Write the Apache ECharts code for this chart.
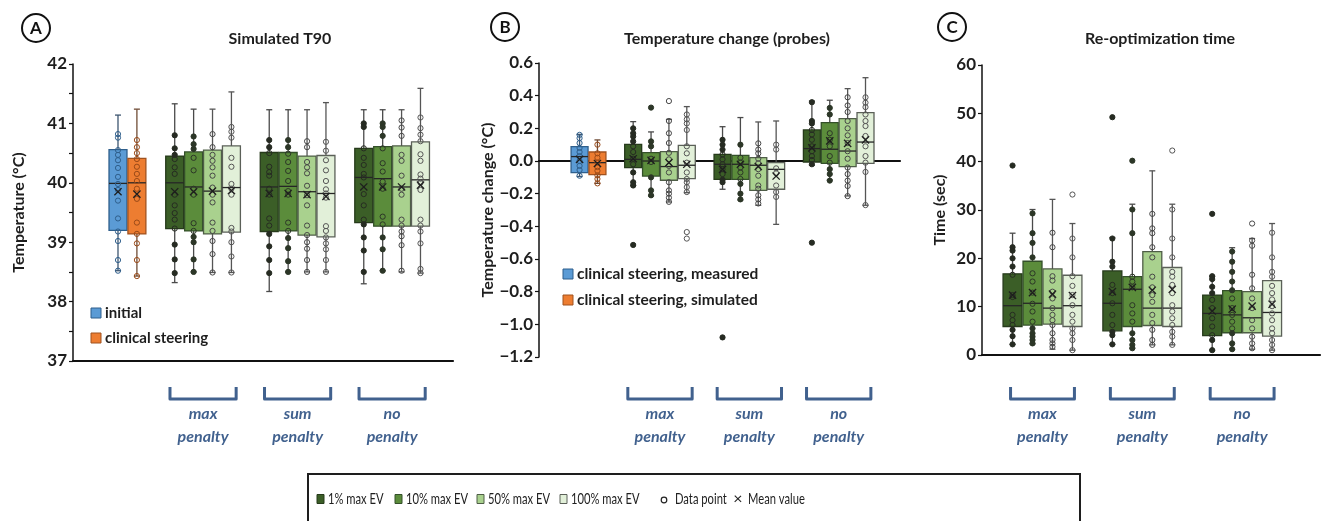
<!DOCTYPE html>
<html>
<head>
<meta charset="utf-8">
<script src="https://cdn.jsdelivr.net/npm/echarts@6.0.0/dist/echarts.min.js"></script>
<style>
  html, body { margin: 0; background: #fff; }
  #main { width: 1322px; height: 521px; }
</style>
</head>
<body>
<div id="main"></div>
<script>
/// data

// slot of each box on the x axis (gaps separate the penalty groups)
const slotsAB = [0, 1, 3, 4, 5, 6, 8, 9, 10, 11, 13, 14, 15, 16]
const slotsC = [0, 1, 2, 3, 5, 6, 7, 8, 10, 11, 12, 13]
// 0 initial/measured, 1 clinical/simulated, 2 1%, 3 10%, 4 50%, 5 100% max EV
const kindsAB = [0, 1, 2, 3, 4, 5, 2, 3, 4, 5, 2, 3, 4, 5]
const kindsC = [2, 3, 4, 5, 2, 3, 4, 5, 2, 3, 4, 5]

const groupLabels = ['max\npenalty', 'sum\npenalty', 'no\npenalty']
const groupSlotsAB = [4.5, 9.5, 14.5]
const groupSlotsC = [1.5, 6.5, 11.5]

// [whisker low, q1, median, q3, whisker high, mean]
const t90Stats = [
  [38.52, 39.2, 39.99, 40.56, 41.14, 39.85],
  [38.43, 39.14, 40.0, 40.41, 41.24, 39.81],
  [38.32, 39.23, 40.0, 40.45, 41.33, 39.85],
  [38.5, 39.19, 39.93, 40.52, 41.24, 39.85],
  [38.49, 39.14, 39.86, 40.55, 41.24, 39.86],
  [38.49, 39.17, 39.92, 40.62, 41.53, 39.87],
  [38.17, 39.18, 39.93, 40.51, 41.23, 39.82],
  [38.5, 39.19, 39.94, 40.51, 41.23, 39.82],
  [38.5, 39.12, 39.85, 40.45, 41.23, 39.8],
  [38.5, 39.09, 39.82, 40.46, 41.35, 39.77],
  [38.3, 39.33, 40.09, 40.58, 41.23, 39.93],
  [38.52, 39.27, 40.07, 40.61, 41.23, 39.93],
  [38.5, 39.27, 39.93, 40.62, 41.23, 39.93],
  [38.48, 39.27, 40.05, 40.69, 41.59, 39.96]
]
const t90Points = [
  [40.82, 40.76, 40.55, 40.47, 40.38, 40.25, 40.1, 39.98, 39.88, 39.7, 39.4, 39.18, 39.02, 38.7, 38.52],
  [40.72, 40.6, 40.5, 40.4, 40.27, 40.15, 40.03, 39.9, 39.73, 39.33, 39.14, 38.98, 38.7, 38.43],
  [40.8, 40.58, 40.47, 40.4, 40.26, 40.15, 39.8, 39.62, 39.49, 39.38, 39.23, 38.96, 38.71, 38.48],
  [40.78, 40.65, 40.57, 40.42, 40.21, 39.9, 39.8, 39.32, 39.19, 39.09, 39.0, 38.71, 38.5],
  [40.82, 40.6, 40.47, 40.37, 40.26, 40.12, 39.92, 39.8, 39.67, 39.33, 39.19, 39.02, 38.8, 38.49],
  [40.94, 40.86, 40.76, 40.42, 40.27, 39.98, 39.9, 39.8, 39.24, 39.18, 39.0, 38.76, 38.49],
  [40.72, 40.6, 40.5, 40.27, 40.18, 40.12, 39.9, 39.8, 39.4, 39.28, 39.14, 38.93, 38.7, 38.48],
  [40.72, 40.6, 40.49, 40.35, 40.2, 40.03, 39.86, 39.8, 39.33, 39.19, 39.07, 38.9, 38.68, 38.5],
  [40.7, 40.6, 40.35, 40.26, 40.16, 39.95, 39.79, 39.62, 39.28, 39.12, 39.0, 38.89, 38.7, 38.5],
  [40.69, 40.54, 40.38, 40.21, 40.03, 39.89, 39.82, 39.75, 39.27, 39.19, 39.08, 38.98, 38.88, 38.7, 38.5],
  [41.0, 40.94, 40.58, 40.42, 40.3, 40.15, 40.09, 39.81, 39.62, 39.38, 39.3, 39.08, 38.86, 38.5],
  [41.0, 40.94, 40.79, 40.58, 40.33, 40.19, 40.02, 39.9, 39.43, 39.3, 39.08, 38.88, 38.52],
  [41.05, 40.93, 40.79, 40.47, 40.37, 40.12, 39.9, 39.8, 39.38, 39.28, 39.18, 39.1, 38.95, 38.52],
  [41.1, 40.92, 40.81, 40.7, 40.48, 40.37, 40.14, 40.07, 40.0, 39.88, 39.38, 39.28, 39.18, 38.98, 38.55, 38.48]
]

const probeStats = [
  [-0.095, -0.071, 0.027, 0.088, 0.163, 0.01],
  [-0.137, -0.083, -0.01, 0.055, 0.129, -0.015],
  [-0.149, -0.04, 0.01, 0.102, 0.241, 0.014],
  [-0.214, -0.092, 0.0, 0.051, 0.178, 0.004],
  [-0.251, -0.118, -0.034, 0.057, 0.255, -0.01],
  [-0.194, -0.108, -0.026, 0.096, 0.333, -0.02],
  [-0.173, -0.112, -0.02, 0.041, 0.21, -0.051],
  [-0.239, -0.112, -0.02, 0.035, 0.266, -0.02],
  [-0.271, -0.18, -0.026, 0.021, 0.239, -0.034],
  [-0.388, -0.173, -0.051, -0.01, 0.245, -0.092],
  [-0.026, -0.006, 0.076, 0.19, 0.367, 0.08],
  [-0.116, -0.014, 0.072, 0.235, 0.372, 0.123],
  [-0.214, -0.034, 0.061, 0.26, 0.443, 0.108],
  [-0.271, -0.014, 0.116, 0.296, 0.51, 0.129]
]
const probePoints = [
  [0.16, 0.14, 0.11, 0.08, 0.055, 0.03, 0.0, -0.03, -0.055, -0.09],
  [0.1, 0.047, 0.02, -0.01, -0.037, -0.06, -0.088, -0.11, -0.137],
  [0.2, 0.17, 0.15, 0.12, 0.09, 0.055, 0.014, -0.02, -0.07, -0.13, -0.15, -0.514],
  [0.327, 0.12, 0.09, 0.014, -0.006, -0.1, -0.18, -0.21],
  [0.367, 0.245, 0.17, 0.11, 0.05, 0.01, -0.03, -0.07, -0.13, -0.18, -0.2, -0.225, -0.25],
  [0.285, 0.255, 0.23, 0.19, 0.09, 0.047, -0.01, -0.07, -0.11, -0.13, -0.16, -0.19, -0.435, -0.475],
  [0.13, 0.1, 0.07, 0.04, 0.01, -0.02, -0.05, -0.08, -0.115, -0.13, -1.08],
  [0.1, 0.02, -0.01, -0.04, -0.07, -0.11, -0.14, -0.2, -0.235],
  [0.108, 0.07, 0.047, 0.014, -0.014, -0.05, -0.09, -0.15, -0.17, -0.21, -0.235, -0.26],
  [0.1, 0.07, -0.045, -0.075, -0.15, -0.19, -0.22],
  [0.36, 0.245, 0.23, 0.19, 0.163, 0.13, 0.09, 0.06, 0.03, 0.006, -0.02, -0.5],
  [0.325, 0.285, 0.17, 0.13, 0.09, 0.03, -0.01, -0.05, -0.08, -0.12],
  [0.39, 0.34, 0.3, 0.245, 0.2, 0.157, 0.11, 0.06, 0.014, -0.04, -0.08, -0.12, -0.153, -0.215],
  [0.39, 0.357, 0.33, 0.285, 0.245, 0.214, 0.153, 0.09, 0.03, -0.01, -0.067, -0.27]
]

const timeStats = [
  [2.2, 5.9, 10.2, 16.8, 25.2, 12.4],
  [2.3, 6.2, 10.7, 19.4, 30.1, 12.9],
  [1.2, 6.4, 9.7, 17.8, 32.2, 12.6],
  [1.0, 5.9, 10.2, 16.5, 27.2, 12.3],
  [2.2, 5.0, 10.7, 17.4, 24.3, 13.1],
  [1.4, 5.9, 13.6, 16.2, 31.2, 14.0],
  [2.1, 6.1, 9.7, 21.4, 38.1, 13.4],
  [2.1, 5.9, 9.7, 18.1, 31.2, 13.6],
  [1.0, 4.0, 8.6, 12.4, 16.3, 9.1],
  [1.2, 4.6, 8.3, 13.3, 22.2, 9.5],
  [1.2, 4.6, 7.7, 13.1, 24.1, 10.1],
  [1.0, 3.9, 8.8, 15.4, 27.2, 10.5]
]
const timePoints = [
  [39.2, 22.3, 21.6, 20, 18.3, 16.6, 12.4, 12, 8.3, 7.2, 6.2, 5.2, 3.9, 2.2],
  [29.3, 25.2, 23.2, 20.2, 16.9, 15.2, 12.9, 10.6, 9, 6.9, 5.5, 4.5, 3.8, 3.1, 2.4],
  [25.3, 22.3, 16.3, 15.4, 13.1, 11.7, 9.7, 8.3, 7.2, 6.2, 4.5, 3.1, 2.4, 1.7],
  [33.2, 24.1, 20.2, 16.3, 14.3, 12.4, 10.3, 8.3, 6.9, 5.5, 4.5, 3.1, 1.0],
  [49.2, 24.1, 19.3, 18.3, 14.5, 12.8, 10.7, 8.3, 6.2, 4.8, 4.1, 2.2],
  [40.2, 30.1, 25.2, 16.2, 15.2, 14, 10.3, 8.6, 6.9, 4.5, 3.1, 2.1, 1.4],
  [29.2, 26.2, 25.2, 22.3, 20.2, 16.2, 14, 12.4, 11, 8.3, 6.6, 5.2, 3.1, 2.1],
  [42.3, 30.1, 24.1, 20.2, 17.2, 16.2, 14.5, 12.8, 10.3, 9, 7.6, 6.2, 4.8, 3.8, 2.1],
  [29.2, 16.3, 15.7, 14.1, 12.8, 11.4, 9.7, 7.6, 5.9, 4.1, 3.1, 1.0],
  [21.4, 19.3, 17.2, 15.2, 13.4, 11.7, 9.7, 8.3, 6.9, 5.5, 4.5, 2.4, 1.2],
  [27.2, 23.7, 22.6, 16.6, 13.8, 11.7, 9.7, 7.2, 5.5, 3.8, 2.4, 1.4],
  [25.3, 20.2, 17.2, 16.2, 14.3, 12.8, 11.5, 10.1, 8.6, 7.2, 5.5, 4.5, 3.1, 2.1, 1.0]
]


/// styles

const FONT = 'Lato'
const kindFill = ['#5b9bd5', '#ed7d31', '#3b5e27', '#5b8c3b', '#a9d18e', '#e2f0d9']
const kindEdge = ['#2f5f8c', '#a0521f', '#263a1b', '#34502a', '#4f5e47', '#5b6058']
const kindWhisker = ['#3e5670', '#6f4b35', '#4a4a4a', '#4a4a4a', '#555', '#555']
const kindDot = ['#2f5f8c', '#9a4a18', '#262b22', '#2c3627', '#474747', '#555']
const bracketBlue = '#41618e'


/// renderers

function boxRenderer(points, kinds) {
  return function (params, api) {
    const i = params.dataIndex
    const k = kinds[i]
    const x = api.value(0)
    const cx = api.coord([x, api.value(3)])[0]
    const yLow = api.coord([x, api.value(1)])[1]
    const yQ1 = api.coord([x, api.value(2)])[1]
    const yMed = api.coord([x, api.value(3)])[1]
    const yQ3 = api.coord([x, api.value(4)])[1]
    const yHigh = api.coord([x, api.value(5)])[1]
    const yMean = api.coord([x, api.value(6)])[1]
    const w = api.size([0.95, 0])[0]
    const wl = { stroke: kindWhisker[k], lineWidth: 1.3 }
    const children = [
      { type: 'line', shape: { x1: cx, y1: yHigh, x2: cx, y2: yLow }, style: wl },
      { type: 'line', shape: { x1: cx - 3, y1: yHigh, x2: cx + 3, y2: yHigh }, style: wl },
      { type: 'line', shape: { x1: cx - 3, y1: yLow, x2: cx + 3, y2: yLow }, style: wl },
      { type: 'rect', shape: { x: cx - w / 2, y: yQ3, width: w, height: yQ1 - yQ3 },
        style: { fill: kindFill[k], stroke: kindEdge[k], lineWidth: 1.3 } },
      { type: 'line', shape: { x1: cx - w / 2, y1: yMed, x2: cx + w / 2, y2: yMed },
        style: { stroke: '#262626', lineWidth: 1.3 } }
    ]
    const q1 = api.value(2), q3 = api.value(4)
    points[i].forEach(v => {
      const outside = v < q1 || v > q3
      const solid = (k === 2 || k === 3) && outside
      children.push({
        type: 'circle',
        shape: { cx: cx, cy: api.coord([x, v])[1], r: 2.6 },
        style: { fill: solid ? kindDot[k] : 'rgba(0,0,0,0)', stroke: kindDot[k], lineWidth: 1 }
      })
    })
    const m = 3.6
    const ml = { stroke: '#1e1e1e', lineWidth: 1.3 }
    children.push(
      { type: 'line', shape: { x1: cx - m, y1: yMean - m, x2: cx + m, y2: yMean + m }, style: ml },
      { type: 'line', shape: { x1: cx - m, y1: yMean + m, x2: cx + m, y2: yMean - m }, style: ml }
    )
    return { type: 'group', children: children }
  }
}

function bracketRenderer(half) {
  return function (params, api) {
    const c = api.value(0)
    const xl = api.coord([c - half, api.value(1)])[0]
    const xr = api.coord([c + half, api.value(1)])[0]
    const top = 387, bot = 399
    return {
      type: 'group',
      children: [
        { type: 'polyline', shape: { points: [[xl, top], [xl, bot], [xr, bot], [xr, top]] },
          style: { stroke: bracketBlue, lineWidth: 3, fill: null, lineJoin: 'round' } },
        { type: 'text', x: (xl + xr) / 2, y: 402,
          style: { text: groupLabels[params.dataIndex], fill: bracketBlue, font: 'italic bold 16px ' + FONT,
                   align: 'center', verticalAlign: 'top', lineHeight: 23 } }
      ]
    }
  }
}

function boxData(slots, stats) {
  return stats.map((s, i) => [slots[i], s[0], s[1], s[2], s[3], s[4], s[5]])
}


/// axes

function yAxisOf(idx, min, max, interval, name, gap, fmt) {
  return {
    type: 'value', gridIndex: idx, min: min, max: max, interval: interval,
    name: name, nameLocation: 'middle', nameGap: gap,
    nameTextStyle: { fontFamily: FONT, fontWeight: 'bold', fontSize: 16, color: '#1e1e1e' },
    axisLine: { show: true, onZero: false, lineStyle: { color: '#111', width: 1.5 } },
    axisTick: { show: true, length: 4, lineStyle: { color: '#111', width: 1.2 } },
    axisLabel: { fontFamily: FONT, fontWeight: 'bold', fontSize: 17, color: '#1e1e1e', margin: 6, formatter: fmt },
    splitLine: { show: false }
  }
}

function xAxisOf(idx, min, max) {
  return {
    type: 'value', gridIndex: idx, min: min, max: max,
    axisLine: { show: true, onZero: true, lineStyle: { color: '#111', width: 2.2 } },
    axisTick: { show: false }, axisLabel: { show: false }, splitLine: { show: false }
  }
}

const fmtT90 = v => (Math.abs(v - Math.round(v)) < 1e-6 ? String(Math.round(v)) : '')
const fmtProbe = v => (Math.abs(v) < 1e-9 ? '0.0' : (v < 0 ? '\u2212' : '') + Math.abs(v).toFixed(1))
const fmtTime = v => String(v)


/// graphics (titles, panel letters, legends)

function circled(x, y, letter) {
  return [
    { type: 'circle', shape: { cx: x, cy: y, r: 14 }, style: { fill: '#fff', stroke: '#111', lineWidth: 2 } },
    { type: 'text', x: x, y: y + 1, style: { text: letter, font: 'bold 17px ' + FONT, fill: '#111', align: 'center', verticalAlign: 'middle' } }
  ]
}
function title(x, y, t) {
  return { type: 'text', x: x, y: y, style: { text: t, font: 'bold 16px ' + FONT, fill: '#1e1e1e', align: 'center', verticalAlign: 'middle' } }
}
function label(x, y, t, font, sx) {
  return { type: 'text', x: x, y: y, scaleX: sx || 1, style: { text: t, font: font, fill: '#1e1e1e', verticalAlign: 'middle' } }
}
function swatch(x, y, w, h, k, t, font, sx) {
  return [
    { type: 'rect', shape: { x: x, y: y - h / 2, width: w, height: h }, style: { fill: kindFill[k], stroke: kindEdge[k], lineWidth: 1 } },
    label(x + w + 4, y, t, font, sx)
  ]
}

const legendFont = '16px ' + FONT
const squeeze = 0.7
const inFont = 'bold 15px ' + FONT
const graphics = [].concat(
  circled(36, 28, 'A'), circled(505, 27, 'B'), circled(952, 27, 'C'),
  [title(280, 39, 'Simulated T90'), title(727, 39, 'Temperature change (probes)'), title(1160, 39, 'Re-optimization time')],
  swatch(91, 313, 10, 10, 0, 'initial', inFont),
  swatch(91, 338, 10, 10, 1, 'clinical steering', inFont),
  swatch(563, 274, 10, 10, 0, 'clinical steering, measured', 'bold 15.5px ' + FONT),
  swatch(563, 300, 10, 10, 1, 'clinical steering, simulated', 'bold 15.5px ' + FONT),
  [{ type: 'rect', shape: { x: 308, y: 474, width: 772, height: 60 }, style: { fill: null, stroke: '#1e1e1e', lineWidth: 2 } }],
  swatch(317, 499, 7, 9, 2, '1% max EV', legendFont, squeeze),
  swatch(395, 499, 7, 9, 3, '10% max EV', legendFont, squeeze),
  swatch(477, 499, 7, 9, 4, '50% max EV', legendFont, squeeze),
  swatch(560, 499, 7, 9, 5, '100% max EV', legendFont, squeeze),
  [
    { type: 'circle', shape: { cx: 664, cy: 500, r: 2.8 }, style: { fill: '#fff', stroke: '#222', lineWidth: 1.2 } },
    label(675, 499, 'Data point', legendFont, squeeze),
    { type: 'text', x: 738, y: 499, style: { text: '\u00d7', font: '16px ' + FONT, fill: '#1e1e1e', align: 'center', verticalAlign: 'middle' } },
    label(748, 499, 'Mean value', legendFont, squeeze)
  ]
)


/// chart

const chart = echarts.init(document.getElementById('main'))
chart.setOption({
  backgroundColor: '#fff',
  animation: false,
  textStyle: { fontFamily: FONT },
  grid: [
    { left: 73, top: 64, width: 380, height: 297 },
    { left: 539, top: 63, width: 361, height: 294 },
    { left: 982, top: 65, width: 338, height: 290 }
  ],
  xAxis: [xAxisOf(0, -2.38, 17.72), xAxisOf(1, -2.27, 17.93), xAxisOf(2, -1.53, 15.4)],
  yAxis: [
    yAxisOf(0, 37, 42, 0.5, 'Temperature (\u00b0C)', 46, fmtT90),
    yAxisOf(1, -1.2, 0.6, 0.2, 'Temperature change (\u00b0C)', 41, fmtProbe),
    yAxisOf(2, 0, 60, 10, 'Time (sec)', 34, fmtTime)
  ],
  series: [
    { type: 'custom', xAxisIndex: 0, yAxisIndex: 0, clip: false, renderItem: boxRenderer(t90Points, kindsAB),
      encode: { x: 0, y: [1, 2, 3, 4, 5] }, data: boxData(slotsAB, t90Stats) },
    { type: 'custom', xAxisIndex: 1, yAxisIndex: 1, clip: false, renderItem: boxRenderer(probePoints, kindsAB),
      encode: { x: 0, y: [1, 2, 3, 4, 5] }, data: boxData(slotsAB, probeStats) },
    { type: 'custom', xAxisIndex: 2, yAxisIndex: 2, clip: false, renderItem: boxRenderer(timePoints, kindsC),
      encode: { x: 0, y: [1, 2, 3, 4, 5] }, data: boxData(slotsC, timeStats) },
    { type: 'custom', xAxisIndex: 0, yAxisIndex: 0, clip: false, renderItem: bracketRenderer(1.75),
      encode: { x: 0, y: 1 }, data: groupSlotsAB.map(c => [c, 37]) },
    { type: 'custom', xAxisIndex: 1, yAxisIndex: 1, clip: false, renderItem: bracketRenderer(1.8),
      encode: { x: 0, y: 1 }, data: groupSlotsAB.map(c => [c, -1.2]) },
    { type: 'custom', xAxisIndex: 2, yAxisIndex: 2, clip: false, renderItem: bracketRenderer(1.6),
      encode: { x: 0, y: 1 }, data: groupSlotsC.map(c => [c, 0]) }
  ],
  graphic: { elements: graphics }
})
</script>
</body>
</html>
